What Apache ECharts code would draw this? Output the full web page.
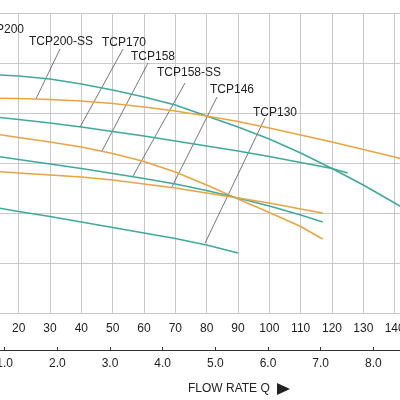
<!DOCTYPE html>
<html>
<head>
<meta charset="utf-8">
<script src="https://cdn.jsdelivr.net/npm/echarts@6/dist/echarts.min.js"></script>
<style>
html, body { margin: 0; padding: 0; background: #fff; }
#chart { width: 400px; height: 400px; }
</style>
</head>
<body>
<div id="chart"></div>
<script>
// flow rate (L/min) and head for each pump curve
var flowA = [10, 20, 30, 40, 50, 60, 70, 80, 90, 100, 110, 120, 130, 140, 150];
var tcp200 = [47.7, 47.4, 46.8, 45.8, 44.6, 43.2, 41.6, 39.4, 37.2, 34.8, 32.0, 28.9, 25.6, 22.0, 18.3];
var tcp200ss = [43.0, 42.9, 42.7, 42.4, 41.9, 41.2, 40.4, 39.4, 38.3, 37.0, 35.6, 34.2, 32.7, 31.2, 29.6];

var flowC = [10, 20, 30, 40, 50, 60, 70, 80, 90, 100, 110, 120, 125];
var tcp170 = [39.4, 38.7, 38.0, 37.2, 36.3, 35.4, 34.4, 33.4, 32.4, 31.3, 30.1, 28.9, 28.0];

var flowD = [10, 20, 30, 40, 50, 60, 70, 80, 90, 100, 110, 117];
var tcp158 = [36.0, 35.1, 34.2, 33.2, 31.9, 30.3, 28.2, 25.6, 22.8, 20.1, 17.3, 14.8];
var tcp158ss = [31.6, 30.7, 29.8, 28.9, 27.9, 26.9, 25.8, 24.5, 23.0, 21.4, 19.6, 18.2];
var tcp146 = [28.4, 28.0, 27.6, 27.2, 26.6, 25.8, 25.0, 24.0, 23.0, 22.0, 20.8, 20.0];

var flowG = [10, 20, 30, 40, 50, 60, 70, 80, 90];
var tcp130 = [21.4, 20.3, 19.3, 18.2, 17.1, 16.0, 14.9, 13.6, 12.0];

// labels and the point each leader touches on its curve
var labelNames = ['TCP200', 'TCP200-SS', 'TCP170', 'TCP158', 'TCP158-SS', 'TCP146', 'TCP130'];
var leaderAnchors = [null, [25.5, 42.8], [39.6, 37.2], [46.6, 32.4], [56.5, 27.4], [68.9, 25.2], [79.5, 14.0]];

var TEAL = '#3fa99b';
var ORANGE = '#e9a443';
var GRID = '#c9c9c9';
var INK = '#222';

function pairs(xs, ys) {
    return ys.map(function (v, i) { return [xs[i], v]; });
}

function curve(name, xs, ys, color) {
    return {
        name: name,
        type: 'line',
        xAxisIndex: 0,
        yAxisIndex: 0,
        data: pairs(xs, ys),
        smooth: false,
        symbol: 'none',
        lineStyle: { color: color, width: 1.5 }
    };
}

var chart = echarts.init(document.getElementById('chart'));
var option = {
    animation: false,
    backgroundColor: '#fff',
    textStyle: { fontFamily: 'Liberation Sans, Arial, sans-serif' },
    grid: [
        { left: -44, right: -26, top: 13, bottom: 87, containLabel: false, outerBoundsMode: 'none' },
        { left: -48, right: -26, top: 330, bottom: 50, containLabel: false, outerBoundsMode: 'none' }
    ],
    xAxis: [
        {
            gridIndex: 0,
            type: 'value',
            min: 0,
            max: 150,
            interval: 10,
            axisLine: { show: false },
            axisTick: { show: false },
            axisLabel: { color: INK, fontSize: 12, margin: 10 },
            splitLine: { show: true, lineStyle: { color: GRID, width: 1 } }
        },
        {
            gridIndex: 1,
            type: 'value',
            min: 0,
            max: 9,
            interval: 1,
            axisLine: { show: true, lineStyle: { color: '#333', width: 1 } },
            axisTick: { show: true, inside: true, length: 3, lineStyle: { color: '#333' } },
            axisLabel: {
                color: INK, fontSize: 12, margin: 8,
                formatter: function (v) { return v.toFixed(1); }
            },
            splitLine: { show: false }
        }
    ],
    yAxis: [
        {
            gridIndex: 0,
            type: 'value',
            min: 0,
            max: 60,
            interval: 10,
            axisLine: { show: false },
            axisTick: { show: false },
            axisLabel: { show: false },
            splitLine: { show: true, lineStyle: { color: GRID, width: 1 } }
        },
        {
            gridIndex: 1,
            type: 'value',
            show: false
        }
    ],
    series: [
        curve('TCP200', flowA, tcp200, TEAL),
        curve('TCP200-SS', flowA, tcp200ss, ORANGE),
        curve('TCP170', flowC, tcp170, TEAL),
        curve('TCP158', flowD, tcp158, ORANGE),
        curve('TCP158-SS', flowD, tcp158ss, TEAL),
        curve('TCP146', flowD, tcp146, ORANGE),
        curve('TCP130', flowG, tcp130, TEAL)
    ]
};
chart.setOption(option);

// label text placement (pixels) and where each leader leaves the label
var labelPos = [[24, 30, 'right'], [29, 42, 'left'], [102, 43, 'left'], [131, 57, 'left'],
                [157, 73, 'left'], [210, 90, 'left'], [253, 113, 'left']];
var leaderStart = [null, [60, 49], [123, 49], [148, 63], [185, 83], [217, 97], [265, 118]];

var graphics = [];
labelNames.forEach(function (name, i) {
    graphics.push({
        type: 'text',
        x: labelPos[i][0],
        y: labelPos[i][1],
        style: {
            text: name,
            fill: INK,
            font: '12px Liberation Sans, Arial, sans-serif',
            textAlign: labelPos[i][2],
            textVerticalAlign: 'middle'
        }
    });
    if (leaderAnchors[i]) {
        var end = chart.convertToPixel({ gridIndex: 0 }, leaderAnchors[i]);
        graphics.push({
            type: 'line',
            shape: { x1: leaderStart[i][0], y1: leaderStart[i][1], x2: end[0], y2: end[1] },
            style: { stroke: '#555', lineWidth: 0.8 }
        });
    }
});
graphics.push({
    type: 'text',
    x: 188,
    y: 389,
    style: {
        text: 'FLOW RATE Q',
        fill: INK,
        font: '12px Liberation Sans, Arial, sans-serif',
        textVerticalAlign: 'middle'
    }
});
graphics.push({
    type: 'polygon',
    shape: { points: [[277, 383], [290, 389], [277, 395]] },
    style: { fill: INK }
});
chart.setOption({ graphic: graphics });
</script>
</body>
</html>
